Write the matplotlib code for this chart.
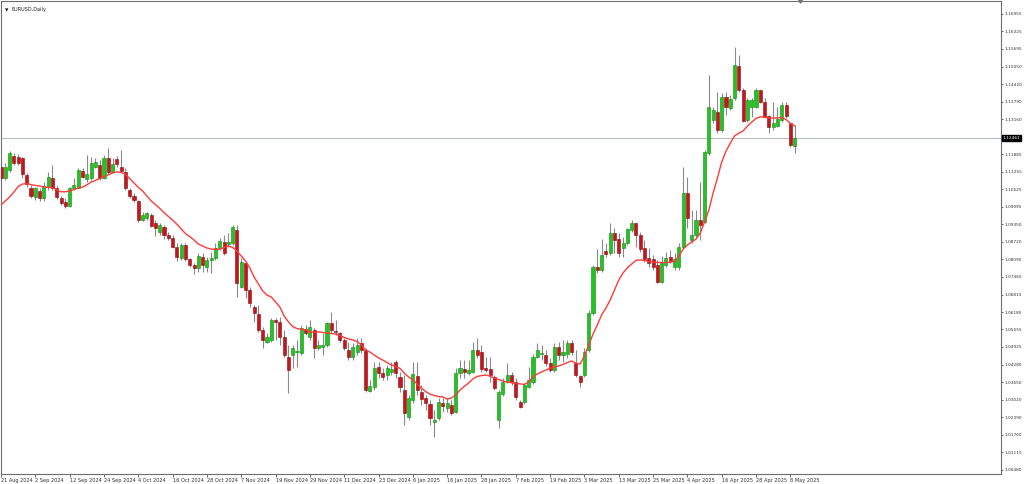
import numpy as np
import matplotlib
matplotlib.use('Agg')
import matplotlib.pyplot as plt

## Daily candles (one entry per bar, 21 Aug 2024 .. 9 May 2025)
opens = [1.1144, 1.1102, 1.1132, 1.1183, 1.1180, 1.1174, 1.1114, 1.1068, 1.1035, 1.1056,
         1.1030, 1.1071, 1.1102, 1.1066, 1.1030, 1.1017, 1.1003, 1.1066, 1.1068, 1.1128,
         1.1099, 1.1102, 1.1144, 1.1150, 1.1102, 1.1174, 1.1123, 1.1172, 1.1144, 1.1123,
         1.1060, 1.1039, 1.1020, 1.0951, 1.0957, 1.0969, 1.0939, 1.0909, 1.0927, 1.0897,
         1.0885, 1.0855, 1.0813, 1.0861, 1.0810, 1.0789, 1.0777, 1.0819, 1.0782, 1.0807,
         1.0813, 1.0849, 1.0873, 1.0864, 1.0867, 1.0915, 1.0710, 1.0795, 1.0698, 1.0638,
         1.0610, 1.0554, 1.0511, 1.0518, 1.0590, 1.0584, 1.0530, 1.0457, 1.0463, 1.0475,
         1.0471, 1.0557, 1.0530, 1.0554, 1.0488, 1.0493, 1.0500, 1.0578, 1.0550, 1.0542,
         1.0518, 1.0481, 1.0455, 1.0475, 1.0506, 1.0481, 1.0334, 1.0347, 1.0419, 1.0397,
         1.0391, 1.0403, 1.0439, 1.0385, 1.0337, 1.0240, 1.0301, 1.0387, 1.0330, 1.0307,
         1.0286, 1.0221, 1.0235, 1.0291, 1.0271, 1.0283, 1.0259, 1.0397, 1.0412, 1.0399,
         1.0403, 1.0481, 1.0474, 1.0416, 1.0413, 1.0385, 1.0229, 1.0322, 1.0367, 1.0391,
         1.0367, 1.0295, 1.0295, 1.0349, 1.0367, 1.0457, 1.0467, 1.0463, 1.0433, 1.0409,
         1.0493, 1.0463, 1.0467, 1.0506, 1.0433, 1.0387, 1.0391, 1.0481, 1.0615, 1.0782,
         1.0770, 1.0840, 1.0831, 1.0905, 1.0881, 1.0849, 1.0867, 1.0915, 1.0939, 1.0897,
         1.0849, 1.0813, 1.0809, 1.0789, 1.0728, 1.0789, 1.0819, 1.0782, 1.0782, 1.0855,
         1.1048, 1.0879, 1.0897, 1.0951, 1.0945, 1.1192, 1.1312, 1.1342, 1.1276, 1.1394,
         1.1355, 1.1391, 1.1508, 1.1421, 1.1312, 1.1360, 1.1360, 1.1421, 1.1379, 1.1327,
         1.1286, 1.1291, 1.1312, 1.1367, 1.1301, 1.1219]
highs = [1.1168, 1.1156, 1.1200, 1.1192, 1.1189, 1.1180, 1.1120, 1.1078, 1.1071, 1.1066,
         1.1090, 1.1125, 1.1150, 1.1074, 1.1039, 1.1030, 1.1071, 1.1102, 1.1138, 1.1138,
         1.1186, 1.1180, 1.1174, 1.1168, 1.1186, 1.1210, 1.1176, 1.1183, 1.1204, 1.1138,
         1.1066, 1.1048, 1.1023, 1.0979, 1.0981, 1.0975, 1.0951, 1.0939, 1.0933, 1.0909,
         1.0897, 1.0867, 1.0867, 1.0867, 1.0815, 1.0795, 1.0831, 1.0832, 1.0819, 1.0837,
         1.0867, 1.0885, 1.0897, 1.0903, 1.0933, 1.0933, 1.0813, 1.0800, 1.0710, 1.0644,
         1.0644, 1.0566, 1.0542, 1.0596, 1.0596, 1.0602, 1.0554, 1.0500, 1.0500, 1.0518,
         1.0572, 1.0572, 1.0590, 1.0561, 1.0518, 1.0542, 1.0583, 1.0620, 1.0590, 1.0547,
         1.0525, 1.0510, 1.0507, 1.0525, 1.0525, 1.0489, 1.0373, 1.0438, 1.0438, 1.0416,
         1.0427, 1.0438, 1.0445, 1.0402, 1.0391, 1.0319, 1.0438, 1.0438, 1.0355, 1.0319,
         1.0301, 1.0265, 1.0308, 1.0308, 1.0308, 1.0301, 1.0416, 1.0445, 1.0445, 1.0445,
         1.0511, 1.0525, 1.0500, 1.0457, 1.0457, 1.0391, 1.0337, 1.0380, 1.0434, 1.0402,
         1.0380, 1.0301, 1.0362, 1.0421, 1.0467, 1.0506, 1.0500, 1.0481, 1.0451, 1.0507,
         1.0510, 1.0518, 1.0518, 1.0518, 1.0481, 1.0391, 1.0489, 1.0626, 1.0789, 1.0846,
         1.0882, 1.0868, 1.0941, 1.0921, 1.0905, 1.0891, 1.0921, 1.0951, 1.0941, 1.0909,
         1.0879, 1.0849, 1.0825, 1.0807, 1.0821, 1.0837, 1.0843, 1.0831, 1.0867, 1.1144,
         1.1105, 1.0987, 1.0987, 1.1090, 1.1204, 1.1475, 1.1360, 1.1415, 1.1409, 1.1415,
         1.1403, 1.1575, 1.1547, 1.1427, 1.1391, 1.1391, 1.1427, 1.1421, 1.1391, 1.1331,
         1.1379, 1.1360, 1.1379, 1.1379, 1.1306, 1.1294]
lows = [1.1096, 1.1096, 1.1126, 1.1150, 1.1150, 1.1102, 1.1071, 1.1032, 1.1023, 1.1020,
        1.1021, 1.1060, 1.1060, 1.1027, 1.1005, 1.0996, 1.0999, 1.1060, 1.1066, 1.1102,
        1.1090, 1.1096, 1.1138, 1.1096, 1.1098, 1.1116, 1.1120, 1.1144, 1.1126, 1.1060,
        1.1032, 1.1017, 1.0943, 1.0948, 1.0951, 1.0927, 1.0894, 1.0897, 1.0882, 1.0879,
        1.0849, 1.0803, 1.0807, 1.0803, 1.0782, 1.0755, 1.0764, 1.0764, 1.0764, 1.0759,
        1.0807, 1.0843, 1.0825, 1.0855, 1.0861, 1.0674, 1.0704, 1.0669, 1.0638, 1.0584,
        1.0548, 1.0488, 1.0506, 1.0511, 1.0518, 1.0500, 1.0456, 1.0326, 1.0415, 1.0420,
        1.0463, 1.0536, 1.0518, 1.0453, 1.0481, 1.0463, 1.0492, 1.0542, 1.0536, 1.0510,
        1.0481, 1.0445, 1.0445, 1.0463, 1.0471, 1.0330, 1.0330, 1.0337, 1.0380, 1.0373,
        1.0373, 1.0391, 1.0380, 1.0330, 1.0210, 1.0229, 1.0290, 1.0319, 1.0283, 1.0265,
        1.0210, 1.0167, 1.0229, 1.0257, 1.0257, 1.0247, 1.0254, 1.0380, 1.0380, 1.0391,
        1.0398, 1.0453, 1.0402, 1.0403, 1.0367, 1.0337, 1.0199, 1.0315, 1.0362, 1.0355,
        1.0301, 1.0271, 1.0286, 1.0344, 1.0359, 1.0451, 1.0445, 1.0424, 1.0403, 1.0402,
        1.0445, 1.0439, 1.0453, 1.0463, 1.0385, 1.0349, 1.0384, 1.0474, 1.0608, 1.0760,
        1.0763, 1.0819, 1.0825, 1.0831, 1.0819, 1.0819, 1.0861, 1.0909, 1.0855, 1.0837,
        1.0800, 1.0782, 1.0770, 1.0722, 1.0725, 1.0782, 1.0795, 1.0770, 1.0770, 1.0849,
        1.0921, 1.0867, 1.0891, 1.0879, 1.0939, 1.1186, 1.1301, 1.1264, 1.1270, 1.1331,
        1.1349, 1.1385, 1.1415, 1.1306, 1.1306, 1.1324, 1.1355, 1.1373, 1.1319, 1.1264,
        1.1276, 1.1286, 1.1306, 1.1319, 1.1214, 1.1192]
closes = [1.1102, 1.1144, 1.1192, 1.1156, 1.1156, 1.1116, 1.1080, 1.1039, 1.1066, 1.1031,
          1.1075, 1.1108, 1.1068, 1.1035, 1.1011, 1.1003, 1.1068, 1.1078, 1.1132, 1.1108,
          1.1116, 1.1156, 1.1160, 1.1102, 1.1176, 1.1123, 1.1152, 1.1152, 1.1128, 1.1066,
          1.1039, 1.1023, 1.0951, 1.0969, 1.0975, 1.0931, 1.0921, 1.0933, 1.0897, 1.0885,
          1.0855, 1.0819, 1.0861, 1.0810, 1.0789, 1.0777, 1.0822, 1.0789, 1.0807, 1.0813,
          1.0849, 1.0876, 1.0831, 1.0873, 1.0927, 1.0722, 1.0800, 1.0698, 1.0650, 1.0614,
          1.0554, 1.0518, 1.0530, 1.0590, 1.0584, 1.0530, 1.0463, 1.0409, 1.0488, 1.0479,
          1.0561, 1.0544, 1.0566, 1.0488, 1.0500, 1.0500, 1.0578, 1.0554, 1.0545, 1.0518,
          1.0488, 1.0455, 1.0493, 1.0500, 1.0481, 1.0337, 1.0351, 1.0415, 1.0397, 1.0385,
          1.0415, 1.0412, 1.0397, 1.0347, 1.0253, 1.0307, 1.0395, 1.0337, 1.0304, 1.0290,
          1.0236, 1.0229, 1.0294, 1.0279, 1.0289, 1.0255, 1.0398, 1.0415, 1.0403, 1.0409,
          1.0483, 1.0463, 1.0413, 1.0409, 1.0391, 1.0343, 1.0331, 1.0367, 1.0391, 1.0367,
          1.0313, 1.0274, 1.0355, 1.0373, 1.0457, 1.0481, 1.0472, 1.0433, 1.0409, 1.0493,
          1.0463, 1.0474, 1.0506, 1.0475, 1.0391, 1.0367, 1.0475, 1.0614, 1.0782, 1.0770,
          1.0825, 1.0828, 1.0905, 1.0879, 1.0831, 1.0869, 1.0919, 1.0941, 1.0897, 1.0845,
          1.0809, 1.0795, 1.0782, 1.0728, 1.0795, 1.0813, 1.0804, 1.0809, 1.0855, 1.1048,
          1.0957, 1.0897, 1.0951, 1.0933, 1.1198, 1.1360, 1.1349, 1.1276, 1.1397, 1.1360,
          1.1387, 1.1511, 1.1421, 1.1310, 1.1385, 1.1385, 1.1421, 1.1379, 1.1324, 1.1286,
          1.1301, 1.1315, 1.1367, 1.1327, 1.1222, 1.1246]

## Moving average line as drawn on the chart
ma = [1.1005, 1.1020, 1.1034, 1.1052, 1.1072, 1.1081, 1.1083, 1.1079, 1.1076, 1.1074,
      1.1070, 1.1069, 1.1068, 1.1060, 1.1053, 1.1053, 1.1056, 1.1061, 1.1067, 1.1070,
      1.1078, 1.1088, 1.1094, 1.1101, 1.1108, 1.1114, 1.1121, 1.1125, 1.1123, 1.1116,
      1.1101, 1.1085, 1.1069, 1.1056, 1.1038, 1.1020, 1.1007, 1.0993, 1.0978, 1.0964,
      1.0951, 1.0936, 1.0919, 1.0902, 1.0891, 1.0879, 1.0864, 1.0857, 1.0850, 1.0846,
      1.0845, 1.0846, 1.0852, 1.0857, 1.0852, 1.0839, 1.0821, 1.0803, 1.0778, 1.0745,
      1.0720, 1.0695, 1.0680, 1.0673, 1.0655, 1.0637, 1.0604, 1.0583, 1.0566, 1.0559,
      1.0556, 1.0554, 1.0547, 1.0545, 1.0547, 1.0545, 1.0543, 1.0541, 1.0539, 1.0534,
      1.0527, 1.0521, 1.0518, 1.0512, 1.0500, 1.0481, 1.0474, 1.0463, 1.0453, 1.0445,
      1.0436, 1.0427, 1.0422, 1.0415, 1.0398, 1.0384, 1.0373, 1.0359, 1.0344, 1.0331,
      1.0322, 1.0317, 1.0313, 1.0312, 1.0304, 1.0308, 1.0319, 1.0337, 1.0350, 1.0362,
      1.0377, 1.0386, 1.0389, 1.0391, 1.0387, 1.0380, 1.0375, 1.0369, 1.0366, 1.0363,
      1.0361, 1.0359, 1.0357, 1.0366, 1.0384, 1.0395, 1.0402, 1.0409, 1.0415, 1.0420,
      1.0424, 1.0429, 1.0436, 1.0442, 1.0434, 1.0431, 1.0460, 1.0500, 1.0539, 1.0572,
      1.0608, 1.0633, 1.0662, 1.0698, 1.0734, 1.0760, 1.0778, 1.0792, 1.0805, 1.0807,
      1.0805, 1.0801, 1.0799, 1.0798, 1.0797, 1.0798, 1.0799, 1.0801, 1.0821, 1.0846,
      1.0861, 1.0872, 1.0882, 1.0904, 1.0944, 1.0987, 1.1049, 1.1103, 1.1161, 1.1200,
      1.1229, 1.1255, 1.1265, 1.1273, 1.1291, 1.1305, 1.1318, 1.1324, 1.1323, 1.1320,
      1.1319, 1.1320, 1.1321, 1.1314, 1.1300, 1.1291]

date_labels = ['21 Aug 2024', '2 Sep 2024', '12 Sep 2024', '24 Sep 2024', '4 Oct 2024',
               '16 Oct 2024', '28 Oct 2024', '7 Nov 2024', '19 Nov 2024', '29 Nov 2024',
               '11 Dec 2024', '23 Dec 2024', '6 Jan 2025', '16 Jan 2025', '28 Jan 2025',
               '7 Feb 2025', '19 Feb 2025', '3 Mar 2025', '13 Mar 2025', '25 Mar 2025',
               '4 Apr 2025', '16 Apr 2025', '28 Apr 2025', '8 May 2025']
price_ticks = [1.16955, 1.16325, 1.15695, 1.15050, 1.14420, 1.13790, 1.13160,
               1.11885, 1.11255, 1.10625, 1.09995, 1.09350, 1.08720, 1.08090,
               1.07460, 1.06815, 1.06185, 1.05555, 1.04925, 1.04280, 1.03650,
               1.03020, 1.02390, 1.01760, 1.01115, 1.00480]
bid = 1.12461

o = np.array(opens); h = np.array(highs); l = np.array(lows); c = np.array(closes)
x = np.arange(len(o))
up = c >= o

fig = plt.figure(figsize=(10.24, 4.84), dpi=100)
ax = fig.add_axes([1/1024, 10/484, 1000/1024, 473/484])

## wicks then bodies
ax.vlines(x, l, h, color='#8a8a8a', lw=0.8, zorder=2)
body_lo = np.minimum(o, c)
body_h = np.maximum(np.abs(c - o), 0.00015)
ax.bar(x[up], body_h[up], bottom=body_lo[up], width=0.72,
       color='#22c422', edgecolor='#128a12', lw=0.4, zorder=3)
ax.bar(x[~up], body_h[~up], bottom=body_lo[~up], width=0.72,
       color='#c8141c', edgecolor='#8a0c10', lw=0.4, zorder=3)

## moving average
ax.plot(x, ma, color='#ff3a3a', lw=1.0, zorder=4)

## bid line + price box
ax.axhline(bid, color='#b4bcc6', lw=0.8, zorder=1)
ax.annotate('%.5f' % bid, xy=(1.0, bid), xycoords=('axes fraction', 'data'),
            xytext=(1.2, 0), textcoords='offset points', ha='left', va='center',
            fontsize=3.1, color='white',
            bbox=dict(boxstyle='square,pad=0.25', fc='black', ec='black'))

ax.set_xlim(0, 1000/4.29)
ax.set_ylim(1.00334, 1.17424)

ax.yaxis.tick_right()
ax.set_yticks(price_ticks)
ax.set_yticklabels(['%.5f' % p for p in price_ticks])
ax.set_xticks(np.arange(0, len(date_labels)*8, 8))
ax.set_xticklabels(date_labels, ha='left')
ax.tick_params(axis='y', length=1.5, width=0.5, pad=1, labelsize=3.1,
               colors='#303030')
ax.tick_params(axis='x', length=2, width=0.5, pad=1, labelsize=3.6,
               colors='#303030')
for sp in ax.spines.values():
    sp.set_color('#6e6e6e')
    sp.set_linewidth(0.8)

## symbol caption
ax.text(0.004, 0.985, '\u25bc', transform=ax.transAxes, fontsize=3.2,
        va='top', ha='left', color='black')
ax.text(0.011, 0.987, 'EURUSD,Daily', transform=ax.transAxes, fontsize=3.6,
        va='top', ha='left', color='#202020')
## chart shift marker
ax.plot([799/4.29], [1.1741], marker='v', color='#707070', markersize=2.5,
        clip_on=False)

fig.savefig('out.png', dpi=100, facecolor='white')
